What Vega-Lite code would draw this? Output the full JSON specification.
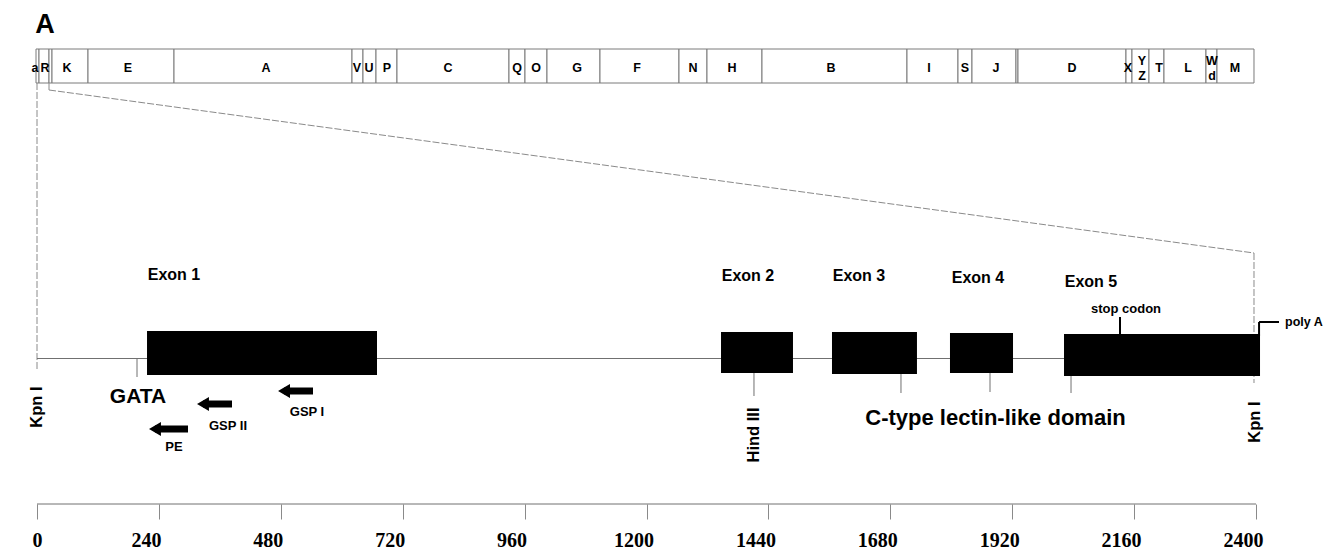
{
  "$schema": "https://vega.github.io/schema/vega-lite/v6.json",
  "width": 1336,
  "height": 552,
  "autosize": {"type": "none"},
  "padding": 0,
  "background": "white",
  "config": {"view": {"stroke": null}},
  "datasets": {
    "strip": [
      {"pos": -1.97, "end": 3.94, "top": 49, "bottom": 83},
      {"pos": 3.94, "end": 23.63, "top": 49, "bottom": 83},
      {"pos": 23.63, "end": 29.53, "top": 49, "bottom": 83},
      {"pos": 29.53, "end": 100.41, "top": 49, "bottom": 83},
      {"pos": 100.41, "end": 269.73, "top": 49, "bottom": 83},
      {"pos": 269.73, "end": 620.18, "top": 49, "bottom": 83},
      {"pos": 620.18, "end": 641.83, "top": 49, "bottom": 83},
      {"pos": 641.83, "end": 667.43, "top": 49, "bottom": 83},
      {"pos": 667.43, "end": 708.77, "top": 49, "bottom": 83},
      {"pos": 708.77, "end": 929.28, "top": 49, "bottom": 83},
      {"pos": 929.28, "end": 960.78, "top": 49, "bottom": 83},
      {"pos": 960.78, "end": 1004.09, "top": 49, "bottom": 83},
      {"pos": 1004.09, "end": 1108.44, "top": 49, "bottom": 83},
      {"pos": 1108.44, "end": 1263.98, "top": 49, "bottom": 83},
      {"pos": 1263.98, "end": 1319.1, "top": 49, "bottom": 83},
      {"pos": 1319.1, "end": 1427.39, "top": 49, "bottom": 83},
      {"pos": 1427.39, "end": 1712.86, "top": 49, "bottom": 83},
      {"pos": 1712.86, "end": 1813.27, "top": 49, "bottom": 83},
      {"pos": 1813.27, "end": 1840.84, "top": 49, "bottom": 83},
      {"pos": 1840.84, "end": 1927.47, "top": 49, "bottom": 83},
      {"pos": 1927.47, "end": 1931.4, "top": 49, "bottom": 83},
      {"pos": 1931.4, "end": 2144.03, "top": 49, "bottom": 83},
      {"pos": 2144.03, "end": 2155.85, "top": 49, "bottom": 83},
      {"pos": 2155.85, "end": 2189.32, "top": 49, "bottom": 83},
      {"pos": 2189.32, "end": 2218.85, "top": 49, "bottom": 83},
      {"pos": 2218.85, "end": 2301.54, "top": 49, "bottom": 83},
      {"pos": 2301.54, "end": 2323.2, "top": 49, "bottom": 83},
      {"pos": 2323.2, "end": 2396.04, "top": 49, "bottom": 83}
    ],
    "guides": [
      {"pos": 0, "end": 2407.9, "top": 358.5, "bottom": 358.5},
      {"pos": 196.9, "end": 196.9, "top": 358, "bottom": 377},
      {"pos": 1411.6, "end": 1411.6, "top": 373, "bottom": 396},
      {"pos": 1701.0, "end": 1701.0, "top": 374, "bottom": 393},
      {"pos": 1876.3, "end": 1876.3, "top": 373, "bottom": 392},
      {"pos": 2035.8, "end": 2035.8, "top": 376, "bottom": 393},
      {"pos": 0, "end": 2400, "top": 504, "bottom": 504}
    ],
    "zoomLines": [
      {"pos": 0, "end": 0, "top": 83, "bottom": 370},
      {"pos": 23.63, "end": 23.63, "top": 83, "bottom": 90},
      {"pos": 23.63, "end": 2396.04, "top": 90, "bottom": 253},
      {"pos": 2396.04, "end": 2396.04, "top": 253, "bottom": 383}
    ],
    "callouts": [
      {"pos": 2132.2, "end": 2132.2, "top": 317, "bottom": 334},
      {"pos": 2406.0, "end": 2406.0, "top": 322, "bottom": 336},
      {"pos": 2406.0, "end": 2445.3, "top": 322, "bottom": 322}
    ],
    "exons": [
      {"exon": 1, "pos": 216.6, "end": 669.4, "top": 331, "bottom": 375},
      {"exon": 2, "pos": 1346.7, "end": 1488.4, "top": 332, "bottom": 373},
      {"exon": 3, "pos": 1565.2, "end": 1732.5, "top": 332, "bottom": 374},
      {"exon": 4, "pos": 1797.5, "end": 1921.6, "top": 333, "bottom": 373},
      {"exon": 5, "pos": 2022.0, "end": 2407.9, "top": 334, "bottom": 376}
    ],
    "arrows": [
      {"primer": "GSP I", "pos": 486.3, "end": 543.4, "top": 391, "bottom": 391},
      {"primer": "GSP II", "pos": 326.8, "end": 383.9, "top": 404, "bottom": 404},
      {"primer": "PE", "pos": 232.3, "end": 297.3, "top": 429, "bottom": 429}
    ],
    "labels": [
      {"text": "A", "kind": "panel", "pos": 15.75, "top": 25},
      {"text": "Exon 1", "kind": "exon", "pos": 269.7, "top": 275},
      {"text": "Exon 2", "kind": "exon", "pos": 1399.8, "top": 276},
      {"text": "Exon 3", "kind": "exon", "pos": 1618.4, "top": 276},
      {"text": "Exon 4", "kind": "exon", "pos": 1852.6, "top": 278},
      {"text": "Exon 5", "kind": "exon", "pos": 2075.1, "top": 282},
      {"text": "Kpn I", "kind": "site", "pos": 0, "top": 407},
      {"text": "Hind III", "kind": "site", "pos": 1411.6, "top": 435},
      {"text": "Kpn I", "kind": "site", "pos": 2398, "top": 422},
      {"text": "GATA", "kind": "gata", "pos": 198.9, "top": 397},
      {"text": "C-type lectin-like domain", "kind": "domain", "pos": 1887.1, "top": 418},
      {"text": "GSP I", "kind": "primer", "pos": 531.6, "top": 412},
      {"text": "GSP II", "kind": "primer", "pos": 376.0, "top": 426},
      {"text": "PE", "kind": "primer", "pos": 269.7, "top": 447},
      {"text": "stop codon", "kind": "primer", "pos": 2144.0, "top": 309},
      {"text": "poly A", "kind": "polyA", "pos": 2457.1, "top": 322},
      {"text": "a", "kind": "strip", "pos": -3.94, "top": 68},
      {"text": "R", "kind": "strip", "pos": 15.75, "top": 68},
      {"text": "K", "kind": "strip", "pos": 59.06, "top": 68},
      {"text": "E", "kind": "strip", "pos": 179.16, "top": 68},
      {"text": "A", "kind": "strip", "pos": 450.86, "top": 68},
      {"text": "V", "kind": "strip", "pos": 630.02, "top": 68},
      {"text": "U", "kind": "strip", "pos": 653.65, "top": 68},
      {"text": "P", "kind": "strip", "pos": 689.08, "top": 68},
      {"text": "C", "kind": "strip", "pos": 809.18, "top": 68},
      {"text": "Q", "kind": "strip", "pos": 945.03, "top": 68},
      {"text": "O", "kind": "strip", "pos": 982.44, "top": 68},
      {"text": "G", "kind": "strip", "pos": 1063.16, "top": 68},
      {"text": "F", "kind": "strip", "pos": 1181.29, "top": 68},
      {"text": "N", "kind": "strip", "pos": 1291.54, "top": 68},
      {"text": "H", "kind": "strip", "pos": 1368.32, "top": 68},
      {"text": "B", "kind": "strip", "pos": 1563.24, "top": 68},
      {"text": "I", "kind": "strip", "pos": 1756.18, "top": 68},
      {"text": "S", "kind": "strip", "pos": 1827.06, "top": 68},
      {"text": "J", "kind": "strip", "pos": 1888.09, "top": 68},
      {"text": "D", "kind": "strip", "pos": 2037.72, "top": 68},
      {"text": "X", "kind": "strip", "pos": 2148.0, "top": 68},
      {"text": "Y", "kind": "strip", "pos": 2175.56, "top": 61},
      {"text": "Z", "kind": "strip", "pos": 2175.56, "top": 76},
      {"text": "T", "kind": "strip", "pos": 2209.03, "top": 68},
      {"text": "L", "kind": "strip", "pos": 2266.13, "top": 68},
      {"text": "W", "kind": "strip", "pos": 2313.38, "top": 61},
      {"text": "d", "kind": "strip", "pos": 2313.38, "top": 76},
      {"text": "M", "kind": "strip", "pos": 2358.66, "top": 68}
    ]
  },
  "encoding": {
    "x": {
      "field": "pos",
      "type": "quantitative",
      "scale": {"domain": [-72.85, 2557.5], "nice": false, "zero": false},
      "axis": {
        "values": [0, 240, 480, 720, 960, 1200, 1440, 1680, 1920, 2160, 2400],
        "format": "d",
        "domain": false,
        "grid": false,
        "title": null,
        "offset": -48,
        "tickSize": 15,
        "tickColor": "#8a8a8a",
        "tickWidth": 1,
        "labelFont": "Liberation Serif",
        "labelFontWeight": "bold",
        "labelFontSize": 20,
        "labelColor": "black",
        "labelBaseline": "middle",
        "labelPadding": 21,
        "labelOverlap": false,
        "labelBound": false,
        "labelFlush": false,
        "labelOffset": {"condition": {"test": "datum.value === 0", "value": 0}, "value": -13}
      }
    },
    "y": {
      "field": "top",
      "type": "quantitative",
      "scale": {"domain": [0, 552], "reverse": true, "nice": false, "zero": false},
      "axis": null
    }
  },
  "layer": [
    {
      "data": {"name": "strip"},
      "mark": {"type": "rect", "fill": "white", "stroke": "#7a7a7a", "strokeWidth": 1},
      "encoding": {"x2": {"field": "end"}, "y2": {"field": "bottom"}}
    },
    {
      "data": {"name": "zoomLines"},
      "mark": {"type": "rule", "color": "#8a8a8a", "strokeWidth": 1, "strokeDash": [7, 2]},
      "encoding": {"x2": {"field": "end"}, "y2": {"field": "bottom"}}
    },
    {
      "data": {"name": "guides"},
      "mark": {"type": "rule", "color": "#707070", "strokeWidth": 1},
      "encoding": {"x2": {"field": "end"}, "y2": {"field": "bottom"}}
    },
    {
      "data": {"name": "exons"},
      "mark": {"type": "rect", "color": "black"},
      "encoding": {"x2": {"field": "end"}, "y2": {"field": "bottom"}}
    },
    {
      "data": {"name": "callouts"},
      "mark": {"type": "rule", "color": "black", "strokeWidth": 2},
      "encoding": {"x2": {"field": "end"}, "y2": {"field": "bottom"}}
    },
    {
      "data": {"name": "arrows"},
      "mark": {"type": "rule", "color": "black", "strokeWidth": 7},
      "encoding": {"x2": {"field": "end"}, "y2": {"field": "bottom"}}
    },
    {
      "data": {"name": "arrows"},
      "mark": {"type": "point", "shape": "triangle-left", "filled": true, "size": 190, "color": "black", "opacity": 1}
    },
    {
      "data": {"name": "labels"},
      "transform": [{"filter": "datum.kind === 'panel'"}],
      "mark": {"type": "text", "font": "Liberation Sans", "fontWeight": "bold", "fontSize": 27, "color": "black", "align": "center", "baseline": "middle"},
      "encoding": {"text": {"field": "text"}}
    },
    {
      "data": {"name": "labels"},
      "transform": [{"filter": "datum.kind === 'exon'"}],
      "mark": {"type": "text", "font": "Liberation Sans", "fontWeight": "bold", "fontSize": 16, "color": "black", "align": "center", "baseline": "middle"},
      "encoding": {"text": {"field": "text"}}
    },
    {
      "data": {"name": "labels"},
      "transform": [{"filter": "datum.kind === 'site'"}],
      "mark": {"type": "text", "font": "Liberation Sans", "fontWeight": "bold", "fontSize": 16.5, "color": "black", "align": "center", "baseline": "middle", "angle": 270},
      "encoding": {"text": {"field": "text"}}
    },
    {
      "data": {"name": "labels"},
      "transform": [{"filter": "datum.kind === 'gata'"}],
      "mark": {"type": "text", "font": "Liberation Sans", "fontWeight": "bold", "fontSize": 21, "color": "black", "align": "center", "baseline": "middle"},
      "encoding": {"text": {"field": "text"}}
    },
    {
      "data": {"name": "labels"},
      "transform": [{"filter": "datum.kind === 'domain'"}],
      "mark": {"type": "text", "font": "Liberation Sans", "fontWeight": "bold", "fontSize": 22, "color": "black", "align": "center", "baseline": "middle"},
      "encoding": {"text": {"field": "text"}}
    },
    {
      "data": {"name": "labels"},
      "transform": [{"filter": "datum.kind === 'primer'"}],
      "mark": {"type": "text", "font": "Liberation Sans", "fontWeight": "bold", "fontSize": 13, "color": "black", "align": "center", "baseline": "middle"},
      "encoding": {"text": {"field": "text"}}
    },
    {
      "data": {"name": "labels"},
      "transform": [{"filter": "datum.kind === 'polyA'"}],
      "mark": {"type": "text", "font": "Liberation Sans", "fontWeight": "bold", "fontSize": 12.5, "color": "black", "align": "left", "baseline": "middle"},
      "encoding": {"text": {"field": "text"}}
    },
    {
      "data": {"name": "labels"},
      "transform": [{"filter": "datum.kind === 'strip'"}],
      "mark": {"type": "text", "font": "Liberation Sans", "fontWeight": "bold", "fontSize": 12.5, "color": "black", "align": "center", "baseline": "middle"},
      "encoding": {"text": {"field": "text"}}
    }
  ]
}
